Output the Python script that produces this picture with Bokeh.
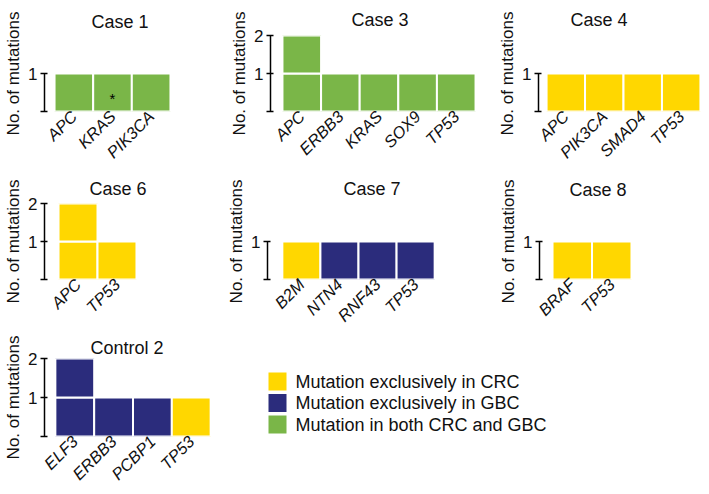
import math
from bokeh.plotting import figure
from bokeh.models import FactorRange, Range1d, FixedTicker, ColumnDataSource
from bokeh.layouts import row, column
from bokeh.embed import file_html
from bokeh.resources import INLINE
from bokeh.core.properties import value

# ---------------- data ----------------
case1_genes = ["APC", "KRAS", "PIK3CA"]
case1_counts = [1, 1, 1]
case1_types = ["both", "both", "both"]
case1_starred = ["KRAS"]

case3_genes = ["APC", "ERBB3", "KRAS", "SOX9", "TP53"]
case3_counts = [2, 1, 1, 1, 1]
case3_types = ["both", "both", "both", "both", "both"]

case4_genes = ["APC", "PIK3CA", "SMAD4", "TP53"]
case4_counts = [1, 1, 1, 1]
case4_types = ["CRC", "CRC", "CRC", "CRC"]

case6_genes = ["APC", "TP53"]
case6_counts = [2, 1]
case6_types = ["CRC", "CRC"]

case7_genes = ["B2M", "NTN4", "RNF43", "TP53"]
case7_counts = [1, 1, 1, 1]
case7_types = ["CRC", "GBC", "GBC", "GBC"]

case8_genes = ["BRAF", "TP53"]
case8_counts = [1, 1]
case8_types = ["CRC", "CRC"]

control2_genes = ["ELF3", "ERBB3", "PCBP1", "TP53"]
control2_counts = [2, 1, 1, 1]
control2_types = ["GBC", "GBC", "GBC", "CRC"]

legend_types = ["CRC", "GBC", "both"]
legend_labels = ["Mutation exclusively in CRC",
                 "Mutation exclusively in GBC",
                 "Mutation in both CRC and GBC"]

y_label = "No. of mutations"

# ---------------- style ----------------
COLORS = {"CRC": "#FFD700", "GBC": "#2B2C7C", "both": "#7AB648"}
FONT = "Liberation Sans"
TXT = "#111111"
LEFT = 44


def panel(title, genes, counts, types, cat, pad, b_right, b_top, t_offset, t_standoff,
          fh=76, starred=()):
    n = len(genes)
    fw = int(round(cat * (n + 2 * pad)))
    p = figure(frame_width=fw, frame_height=fh,
               x_range=FactorRange(*genes, range_padding=pad,
                                   range_padding_units="absolute"),
               y_range=Range1d(0, 2),
               output_backend="svg", toolbar_location=None,
               min_border_left=LEFT, min_border_right=b_right,
               min_border_top=b_top, min_border_bottom=40)
    p.title.text = title
    p.title.align = "left"
    p.title.offset = t_offset
    p.title.standoff = t_standoff
    p.title.text_font = FONT
    p.title.text_font_size = "18px"
    p.title.text_font_style = "normal"
    p.title.text_color = TXT
    p.outline_line_color = None
    p.background_fill_color = "white"
    p.border_fill_color = "white"
    p.xgrid.visible = False
    p.ygrid.visible = False

    xs, bottoms, tops, cols = [], [], [], []
    for g, c, t in zip(genes, counts, types):
        for k in range(c):
            xs.append(g)
            bottoms.append(k)
            tops.append(k + 1)
            cols.append(COLORS[t])
    src = ColumnDataSource(dict(x=xs, bottom=bottoms, top=tops, color=cols))
    p.vbar(x="x", bottom="bottom", top="top", width=1, fill_color="color",
           line_color="white", line_width=2, source=src)

    if starred:
        p.text(x=list(starred), y=[0.35] * len(starred), text=["*"] * len(starred),
               text_align="center", text_baseline="middle",
               text_font=value(FONT), text_font_size="15px", text_color="#000000")

    ymax = max(counts)
    ya = p.yaxis[0]
    ya.ticker = FixedTicker(ticks=list(range(ymax + 1)))
    ya.bounds = (0, ymax)
    ya.major_label_overrides = {0: ""}
    ya.minor_tick_line_color = None
    ya.major_tick_in = 3
    ya.major_tick_out = 4
    ya.axis_line_width = 1.5
    ya.major_tick_line_width = 1.5
    ya.axis_line_color = "#000000"
    ya.major_tick_line_color = "#000000"
    ya.axis_label = y_label
    ya.axis_label_text_font = FONT
    ya.axis_label_text_font_size = "17px"
    ya.axis_label_text_font_style = "normal"
    ya.axis_label_text_color = TXT
    ya.axis_label_standoff = 2
    ya.major_label_standoff = 3
    ya.major_label_text_font = FONT
    ya.major_label_text_font_size = "17px"
    ya.major_label_text_color = TXT

    xa = p.xaxis[0]
    xa.axis_line_color = None
    xa.major_tick_line_color = None
    xa.minor_tick_line_color = None
    xa.major_tick_in = 0
    xa.major_tick_out = 0
    xa.major_label_orientation = math.pi / 4
    xa.major_label_text_font = FONT
    xa.major_label_text_font_size = "16.5px"
    xa.major_label_text_font_style = "italic"
    xa.major_label_text_color = TXT
    xa.major_label_standoff = 2
    return p


# row 1 (figure lefts at 0 / 226 / 494)
f1 = panel("Case 1", case1_genes, case1_counts, case1_types, 38.7, 0.26,
           226 - LEFT - 136, 35, 47, 7, starred=case1_starred)
f3 = panel("Case 3", case3_genes, case3_counts, case3_types, 38.6, 0.31,
           494 - 226 - LEFT - 217, 35, 81, 11)
f4 = panel("Case 4", case4_genes, case4_counts, case4_types, 38.5, 0.21,
           0, 35, 32, 12)

# row 2 (figure lefts at 0 / 223 / 495)
f6 = panel("Case 6", case6_genes, case6_counts, case6_types, 39.0, 0.36,
           223 - LEFT - 106, 33, 45, 10)
f7 = panel("Case 7", case7_genes, case7_counts, case7_types, 38.0, 0.39,
           495 - 223 - LEFT - 182, 33, 76, 10)
f8 = panel("Case 8", case8_genes, case8_counts, case8_types, 39.5, 0.33,
           708 - 495 - LEFT - 105, 33, 30, 7)

# row 3
FC_W = 250
FH3 = 78
fc = panel("Control 2", control2_genes, control2_counts, control2_types, 38.75, 0.28,
           FC_W - LEFT - 177, 23, 46, 2, fh=FH3)

# legend panel: frame aligned with the Control 2 frame, 1 data unit = 1 px,
# y measured downward from the frame top
LW = 700 - FC_W
lf = figure(frame_width=LW, frame_height=FH3, x_range=Range1d(0, LW),
            y_range=Range1d(FH3, 0),
            output_backend="svg", toolbar_location=None,
            min_border_left=0, min_border_right=0, min_border_top=23,
            min_border_bottom=0, x_axis_location=None, y_axis_location=None)
lf.outline_line_color = None
lf.xgrid.visible = False
lf.ygrid.visible = False
n_leg = len(legend_labels)
sq_top = [14 + 21.5 * i for i in range(n_leg)]
lsrc = ColumnDataSource(dict(
    left=[18] * n_leg, right=[36] * n_leg,
    top=sq_top, bottom=[t + 18 for t in sq_top], mid=[t + 9 for t in sq_top],
    tx=[45] * n_leg, label=legend_labels,
    color=[COLORS[t] for t in legend_types]))
lf.quad(left="left", right="right", top="top", bottom="bottom", fill_color="color",
        line_color=None, source=lsrc)
lf.text(x="tx", y="mid", text="label", text_baseline="middle", text_align="left",
        text_font=value(FONT), text_font_size="18px", text_color=TXT, source=lsrc)

layout = column(row(f1, f3, f4), row(f6, f7, f8), row(fc, lf))

open("out.html", "w").write(file_html(layout, INLINE))
